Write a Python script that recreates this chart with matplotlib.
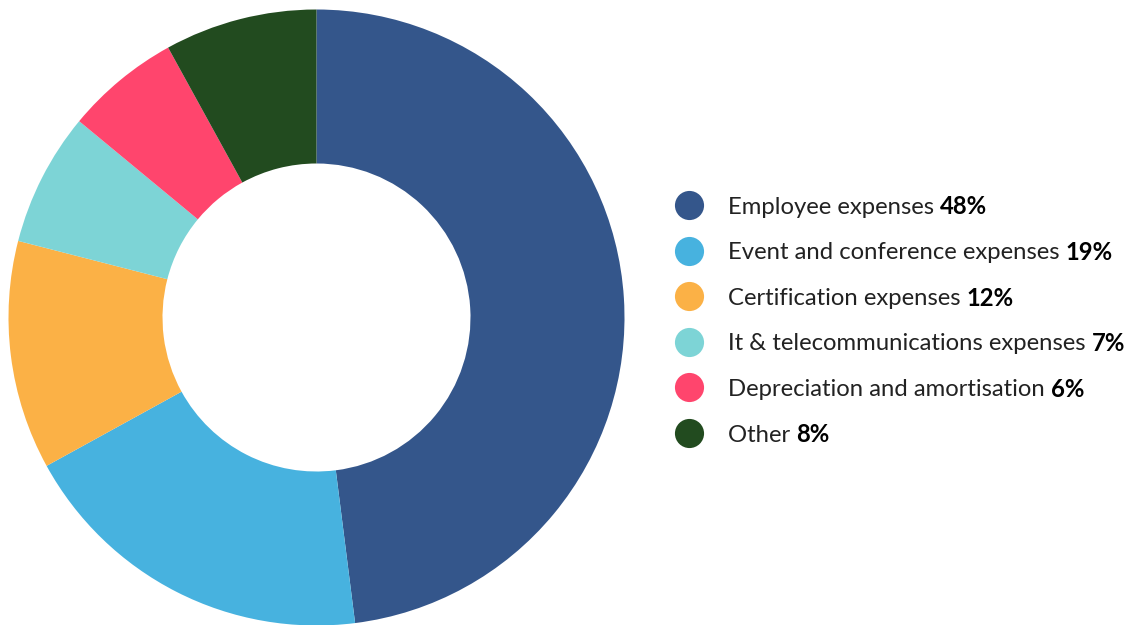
import matplotlib
matplotlib.use("Agg")
import matplotlib.pyplot as plt

categories = ["Employee expenses", "Event and conference expenses", "Certification expenses",
              "It & telecommunications expenses", "Depreciation and amortisation", "Other"]
values = [48, 19, 12, 7, 6, 8]
pct_labels = ["48%", "19%", "12%", "7%", "6%", "8%"]
colors = ["#34568B", "#47B2DF", "#FBB146", "#7DD4D6", "#FF456D", "#224B1F"]

W, H = 1143, 625
fig = plt.figure(figsize=(W / 100, H / 100), dpi=100)

cx, cy, r = 316.5, 317.5, 308
ax = fig.add_axes([(cx - r) / W, 1 - (cy + r) / H, 2 * r / W, 2 * r / H])
ax.pie(values, colors=colors, startangle=90, counterclock=False,
       wedgeprops=dict(width=0.5, edgecolor="none", linewidth=0, antialiased=True))
ax.set_xlim(-1, 1)
ax.set_ylim(-1, 1)
ax.set_aspect("equal")
ax.axis("off")

lax = fig.add_axes([0, 0, 1, 1])
lax.set_xlim(0, W)
lax.set_ylim(H, 0)
lax.axis("off")

y0, dy = 205, 45.6
fs = 17.2
fig.canvas.draw()
renderer = fig.canvas.get_renderer()
inv = lax.transData.inverted()
for i, (cat, pct, col) in enumerate(zip(categories, pct_labels, colors)):
    y = y0 + i * dy
    lax.scatter([688.5], [y], s=440, color=col, linewidths=0)
    t = lax.text(728, y, cat + " ", fontsize=fs, family="Lato", color="#222222",
                 va="center_baseline", ha="left")
    bb = t.get_window_extent(renderer=renderer)
    x_end = inv.transform((bb.x1, bb.y0))[0]
    lax.text(x_end, y, pct, fontsize=fs, family="Lato", fontweight="bold",
             color="#000000", va="center_baseline", ha="left")

fig.savefig("out.png", dpi=100)
